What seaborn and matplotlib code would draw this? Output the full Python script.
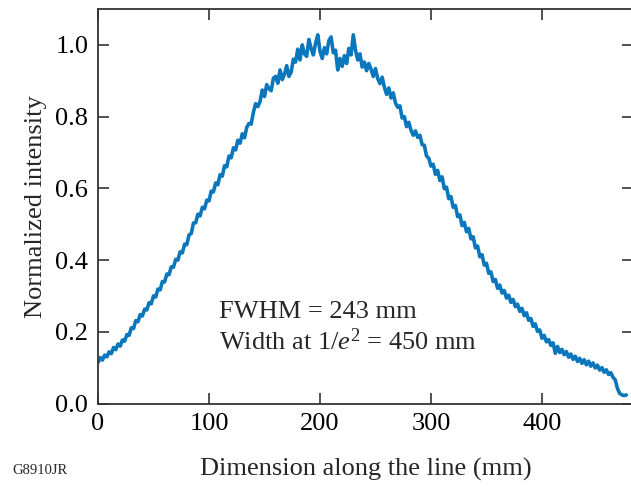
import matplotlib
matplotlib.use("Agg")
import matplotlib.pyplot as plt
import seaborn as sns
import pandas as pd

# Position along the line (mm), every 2 mm
dimension_mm = list(range(0, 478, 2))

# Normalized intensity (noisy trace)
intensity = [
    0.114, 0.128, 0.121, 0.135, 0.130, 0.144, 0.139, 0.156, 0.150, 0.166,
    0.160, 0.177, 0.174, 0.192, 0.190, 0.211, 0.209, 0.231, 0.228, 0.248,
    0.244, 0.263, 0.261, 0.281, 0.278, 0.300, 0.297, 0.319, 0.317, 0.340,
    0.339, 0.361, 0.359, 0.381, 0.380, 0.402, 0.400, 0.423, 0.420, 0.444,
    0.443, 0.470, 0.474, 0.503, 0.504, 0.528, 0.523, 0.547, 0.543, 0.567,
    0.565, 0.592, 0.590, 0.615, 0.610, 0.638, 0.634, 0.663, 0.660, 0.690,
    0.685, 0.713, 0.707, 0.734, 0.726, 0.752, 0.741, 0.770, 0.781, 0.779,
    0.812, 0.836, 0.828, 0.842, 0.874, 0.856, 0.889, 0.878, 0.872, 0.907,
    0.912, 0.893, 0.930, 0.903, 0.918, 0.942, 0.912, 0.924, 0.960, 0.952,
    0.988, 0.958, 1.000, 0.975, 0.968, 1.015, 0.990, 0.972, 1.004, 1.028,
    0.982, 0.962, 0.992, 0.975, 1.012, 1.022, 0.978, 0.985, 0.930, 0.962,
    0.940, 0.970, 0.948, 0.990, 0.972, 1.028, 0.985, 0.958, 0.975, 0.938,
    0.952, 0.928, 0.948, 0.932, 0.912, 0.934, 0.906, 0.892, 0.910, 0.882,
    0.862, 0.880, 0.852, 0.866, 0.838, 0.826, 0.830, 0.796, 0.800, 0.772,
    0.784, 0.762, 0.748, 0.760, 0.742, 0.748, 0.722, 0.720, 0.690, 0.684,
    0.662, 0.667, 0.639, 0.650, 0.622, 0.632, 0.599, 0.603, 0.571, 0.577,
    0.547, 0.552, 0.521, 0.526, 0.496, 0.505, 0.479, 0.488, 0.459, 0.465,
    0.434, 0.439, 0.409, 0.415, 0.386, 0.391, 0.363, 0.367, 0.340, 0.346,
    0.321, 0.330, 0.308, 0.315, 0.294, 0.302, 0.282, 0.290, 0.270, 0.277,
    0.257, 0.265, 0.245, 0.253, 0.232, 0.237, 0.215, 0.222, 0.201, 0.205,
    0.182, 0.190, 0.172, 0.178, 0.162, 0.169, 0.140, 0.159, 0.142, 0.151,
    0.136, 0.145, 0.129, 0.138, 0.123, 0.132, 0.117, 0.126, 0.112, 0.122,
    0.108, 0.118, 0.104, 0.113, 0.099, 0.107, 0.093, 0.100, 0.087, 0.094,
    0.081, 0.086, 0.073, 0.066, 0.042, 0.028, 0.024, 0.022, 0.024,
]

x_ticks = [0, 100, 200, 300, 400]
y_ticks = [0.0, 0.2, 0.4, 0.6, 0.8, 1.0]
y_tick_labels = ["0.0", "0.2", "0.4", "0.6", "0.8", "1.0"]

df = pd.DataFrame({"dimension": dimension_mm, "intensity": intensity})

sns.set_style("ticks")
plt.rcParams["font.family"] = ["Liberation Serif", "DejaVu Serif"]
plt.rcParams["mathtext.fontset"] = "custom"
plt.rcParams["mathtext.rm"] = "Liberation Serif"
plt.rcParams["mathtext.it"] = "Liberation Serif:italic"

W, H = 631, 487
fig = plt.figure(figsize=(W / 100, H / 100), dpi=100)
left, right, top, bottom = 98, 633, 9, 403.5
ax = fig.add_axes([left / W, 1 - bottom / H, (right - left) / W, (bottom - top) / H])

sns.lineplot(data=df, x="dimension", y="intensity", ax=ax, color="#0a77bd",
             linewidth=2.6, estimator=None, sort=False)

ax.set_xlim(0, 482)
ax.set_ylim(0, 1.1)
ax.set_xticks(x_ticks)
ax.set_yticks(y_ticks)
ax.set_yticklabels(y_tick_labels)

edge = "#333333"
for s in ax.spines.values():
    s.set_color(edge)
    s.set_linewidth(1.3)
ax.tick_params(direction="in", length=8, width=1.2, color=edge,
               top=True, right=True, labelsize=19, labelcolor="black", pad=7)

ax.set_xlabel("Dimension along the line (mm)", fontsize=19, labelpad=16)
ax.set_ylabel("Normalized intensity", fontsize=19, labelpad=6)

ax.text(109, 0.238, "FWHM = 243 mm", fontsize=19, va="baseline")
ax.text(109, 0.150, r"Width at 1/$e^{2}$ = 450 mm", fontsize=19, va="baseline")

fig.text(12 / W, 1 - 474 / H, "G8910JR", fontsize=10.5, va="baseline")

fig.savefig("out.png", dpi=100)
